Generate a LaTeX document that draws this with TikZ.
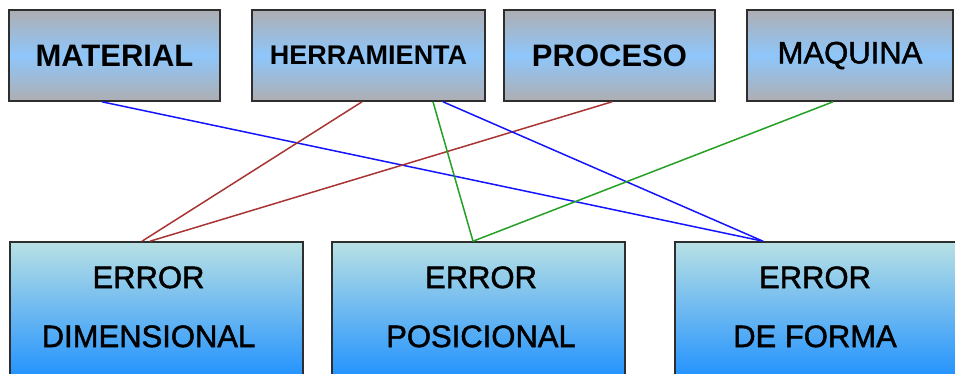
\documentclass[tikz,border=0pt]{standalone}
\usepackage{fontspec}
\setmainfont{Liberation Sans}
\newfontfamily\heavyish[FakeBold=1.5]{Liberation Sans}
\usetikzlibrary{calc}
\definecolor{capgray}{HTML}{AEAEB2}
\definecolor{capblue}{HTML}{8EC6FA}
\definecolor{errtop}{HTML}{B8E0E4}
\definecolor{errbot}{HTML}{1A8EFF}
\definecolor{framegray}{HTML}{2E2E2E}
\definecolor{linkblue}{HTML}{1414FF}
\definecolor{linkred}{HTML}{A83434}
\definecolor{linkgreen}{HTML}{24A024}
\begin{document}
\begin{tikzpicture}[x=1pt,y=-1pt,
  causebox/.style={draw=framegray, line width=1.6pt, top color=capgray,
    bottom color=capgray, middle color=capblue, minimum height=91pt,
    inner sep=0pt, font=\bfseries\fontsize{31}{31}\selectfont},
  errbox/.style={draw=framegray, line width=1.6pt, top color=errtop,
    bottom color=errbot, minimum width=293pt, minimum height=143pt, inner sep=0pt},
  errtext/.style={anchor=north, inner sep=0pt, align=center,
    font=\heavyish\fontsize{31}{59}\selectfont},
  link/.style={line width=1.5pt}]
\useasboundingbox (0,0) rectangle (955,373);
\clip (0,0) rectangle (955,373);

% causes
\node[causebox, minimum width=211pt] (mat)  at (114.5,55.5) {MATERIAL};
\node[causebox, minimum width=233pt, font=\bfseries\fontsize{27}{27}\selectfont]
  (herr) at (368.5,55.5) {HERRAMIENTA};
\node[causebox, minimum width=211pt] (proc) at (609.5,55.5) {PROCESO};
\node[causebox, minimum width=206pt, font=\heavyish\fontsize{31}{31}\selectfont]
  (maq)  at (850,55.5) {MAQUINA};

% error types
\node[errbox] (dim)  at (156.5,313.5) {};
\node[errbox] (pos)  at (478.5,313.5) {};
\node[errbox] (form) at (821.5,313.5) {};
\node[errtext] (dimtxt)  at ($(dim.north)+(-8,25)$)   {ERROR\\DIMENSIONAL};
\node[errtext] (postxt)  at ($(pos.north)+(2.5,25)$)  {ERROR\\POSICIONAL};
\node[errtext] (formtxt) at ($(form.north)+(-6.5,25)$) {ERROR\\DE FORMA};

% relations
\draw[link, linkblue]  ($(mat.south)+(-12.5,0)$) -- ($(form.north)+(-58.5,0)$);
\draw[link, linkred]   ($(herr.south)+(-6.5,0)$) -- ($(dim.north)+(-14.5,0)$);
\draw[link, linkred]   ($(proc.south)+(2.5,0)$)  -- ($(dim.north)+(-6.5,0)$);
\draw[link, linkgreen] ($(herr.south)+(64.5,0)$) -- ($(pos.north)+(-5.5,0)$);
\draw[link, linkblue]  ($(herr.south)+(74.5,0)$) -- ($(form.north)+(-58.5,0)$);
\draw[link, linkgreen] ($(maq.south)+(-17,0)$)   -- ($(pos.north)+(-5.5,0)$);
\end{tikzpicture}
\end{document}
